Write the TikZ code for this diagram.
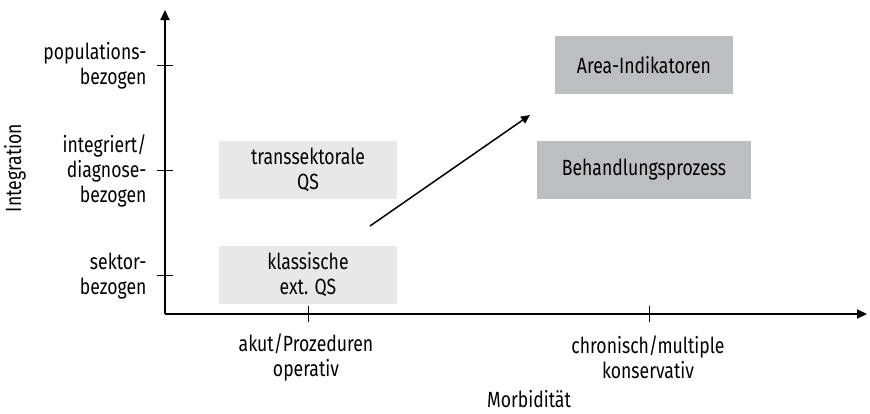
\documentclass[tikz,border=0pt]{standalone}
\usepackage{fontspec}
\setmainfont{Fira Sans}[FakeStretch=0.8]
\usepackage{tikz}
\usetikzlibrary{arrows.meta}

\definecolor{hell}{HTML}{E8E8E9}
\definecolor{dunkel}{HTML}{BDBEC0}

\tikzset{
  feld/.style={minimum width=178pt,minimum height=58pt,align=center,inner sep=0pt},
  achse/.style={line width=2pt,-{Triangle[length=10pt,width=9pt]}},
  lbl/.style={align=right,anchor=east},
  xlbl/.style={align=center}
}

\begin{document}
\begin{tikzpicture}[x=1pt,y=-1pt,font=\fontsize{22}{25}\selectfont]
\useasboundingbox (0,0) rectangle (870,413);
% axes
\coordinate (o) at (165,314);
\coordinate (ytop) at (165,10);
\coordinate (xend) at (867,314);
\draw[achse] (o) -- (ytop);
\draw[achse] (o) -- (xend);
% ticks
\draw[line width=1pt] (157,65)--(173,65);
\draw[line width=1pt] (157,170)--(173,170);
\draw[line width=1pt] (157,275)--(173,275);
\draw[line width=1pt] (308,306)--(308,322);
\draw[line width=1pt] (649,306)--(649,322);
% y labels
\node[lbl] (pop) at (150,66) {populations-\\bezogen};
\node[lbl] (int) at (150,171) {integriert/\\diagnose-\\bezogen};
\node[lbl] (sek) at (150,276) {sektor-\\bezogen};
\node[rotate=90] (ylab) at (15,168) {Integration};
% x labels
\node[xlbl] (akut) at (306,357) {akut/Prozeduren\\operativ};
\node[xlbl] (chron) at (648,357) {chronisch/multiple\\konservativ};
\node (xlab) at (529,399) {Morbidität};
% boxes
\node[feld,fill=hell] (trans) at (308,170) {transsektorale\\QS};
\node[feld,fill=hell] (klass) at (308,275) {klassische\\ext. QS};
\node[feld,fill=dunkel,minimum width=214pt] (beh) at (644,170) {Behandlungsprozess};
\node[feld,fill=dunkel] (area) at (644,65) {Area-Indikatoren};
% trend
\coordinate (p1) at (370,226);
\coordinate (p2) at (530,115);
\draw[line width=1.5pt,-{Triangle[length=9pt,width=8pt]}] (p1) -- (p2);
\end{tikzpicture}
\end{document}
